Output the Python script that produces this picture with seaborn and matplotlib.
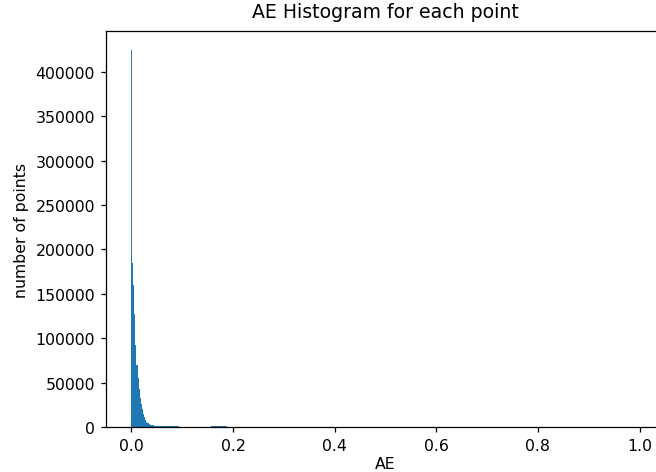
import matplotlib
matplotlib.use("Agg")
import matplotlib.pyplot as plt
import seaborn as sns

# Absolute error per point, binned in steps of 0.002 (bin centres) with point counts
ae_bin_centres = [
    0.001, 0.003, 0.005, 0.007, 0.009, 0.011, 0.013, 0.015, 0.017, 0.019,
    0.021, 0.023, 0.025, 0.027, 0.029, 0.031, 0.033, 0.035, 0.037, 0.039,
    0.041, 0.043, 0.045, 0.047, 0.049, 0.051, 0.053, 0.055, 0.057, 0.059,
    0.061, 0.063, 0.065, 0.067, 0.069, 0.071, 0.073, 0.075, 0.077, 0.079,
    0.081, 0.083, 0.085, 0.087, 0.089, 0.091, 0.093,
    0.157, 0.159, 0.161, 0.163, 0.165, 0.167, 0.169, 0.171, 0.173, 0.175,
    0.177, 0.179, 0.181, 0.183, 0.185, 0.187,
    0.999,
]
point_counts = [
    424800, 185000, 160000, 127000, 92000, 70000, 55000, 43000, 33000, 26000,
    20000, 15000, 11000, 8000, 6000, 5000, 4000, 3500, 2800, 2400,
    2000, 1800, 1600, 1400, 1300, 1200, 1150, 1100, 1050, 1000,
    1000, 950, 950, 900, 900, 900, 850, 850, 800, 800,
    800, 800, 750, 750, 750, 700, 700,
    1300, 1400, 1400, 1500, 1500, 1400, 1400, 1300, 1300, 1200,
    1200, 1200, 1100, 1100, 1000, 900,
    20,
]

DPI = 113
W, H = 656, 473
fig = plt.figure(figsize=(W / DPI, H / DPI), dpi=DPI)
ax = fig.add_axes([106 / W, 45 / H, 559 / W, 396 / H])

sns.histplot(
    x=ae_bin_centres,
    weights=point_counts,
    bins=500,
    binrange=(0, 1),
    color="#1f77b4",
    alpha=1,
    linewidth=0,
    edgecolor="none",
    ax=ax,
)

ax.set_xlim(-0.05, 1.05)
ax.set_xticks([0.0, 0.2, 0.4, 0.6, 0.8, 1.0])
ax.set_title("AE Histogram for each point", pad=9)
ax.set_xlabel("AE", labelpad=2)
ax.set_ylabel("number of points")

fig.savefig("out.png", dpi=DPI)
